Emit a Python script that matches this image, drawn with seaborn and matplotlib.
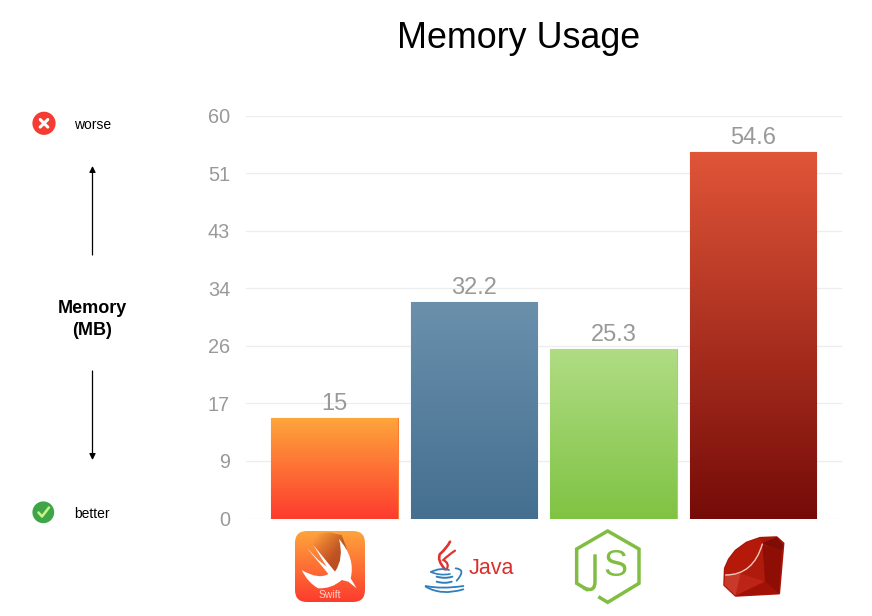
import numpy as np
import pandas as pd
import matplotlib
matplotlib.use("Agg")
import matplotlib.pyplot as plt
import seaborn as sns
from matplotlib.patches import Circle, FancyBboxPatch, PathPatch, Polygon
from matplotlib.path import Path
from matplotlib.colors import LinearSegmentedColormap

languages = ["Swift", "Java", "Node.js", "Ruby"]
memory_mb = [15, 32.2, 25.3, 54.6]
tick_values = [0, 60 / 7, 120 / 7, 180 / 7, 240 / 7, 300 / 7, 360 / 7, 60]
tick_labels = ["0", "9", "17", "26", "34", "43", "51", "60"]
gradient_top = ["#FDA53B", "#6A90AC", "#B0DC84", "#E05538"]
gradient_bottom = ["#FE3B2E", "#456F90", "#80C343", "#750B08"]
edge_colors = ["#FE7A35", "#5F86A3", "#A0D270", "#DC3A1C"]

sns.set_theme(style="white")
plt.rcParams["font.family"] = ["Liberation Sans", "DejaVu Sans"]

W, H = 872, 616
fig = plt.figure(figsize=(W / 100, H / 100), dpi=100, facecolor="white")
ax = fig.add_axes([246 / W, 1 - 518.5 / H, (842 - 246) / W, (518.5 - 115.5) / H])

df = pd.DataFrame({"language": languages, "memory": memory_mb})
sns.barplot(data=df, x="language", y="memory", hue="language",
            palette=gradient_top, legend=False, width=0.905, ax=ax, saturation=1)

xlim = (-0.634, 3.638)
ylim = (0, 60)
for i, patch in enumerate(ax.patches):
    x0, w = patch.get_x(), patch.get_width()
    h = patch.get_height()
    cmap = LinearSegmentedColormap.from_list("g", [gradient_top[i], gradient_bottom[i]])
    im = ax.imshow(np.linspace(0, 1, 256).reshape(-1, 1), cmap=cmap, aspect="auto",
                   extent=(x0, x0 + w, 0, h), zorder=2.5)
    im.set_clip_path(patch)
    patch.set_edgecolor(edge_colors[i])
    patch.set_linewidth(0.8)
    patch.set_zorder(2)

ax.set_xlim(*xlim)
ax.set_ylim(*ylim)
ax.set_yticks(tick_values)
ax.set_yticklabels(tick_labels, fontsize=14.3, color="#999999")
ax.set_xticks([])
ax.set_xlabel("")
ax.set_ylabel("")
ax.tick_params(axis="y", length=0, pad=11.5)
ax.grid(axis="y", color="#EDEDED", linewidth=0.9)
ax.set_axisbelow(True)
for s in ax.spines.values():
    s.set_visible(False)
ax.patch.set_alpha(0)

for i, v in enumerate(memory_mb):
    ax.annotate(f"{v:g}", (i, v), xytext=(0, 2.2), textcoords="offset points",
                ha="center", va="bottom", fontsize=17, color="#999999", zorder=4)

# Pixel-space overlay for annotations and logos
ov = fig.add_axes([0, 0, 1, 1], zorder=5)
ov.set_xlim(0, W)
ov.set_ylim(H, 0)
ov.axis("off")

ov.text(518.5, 38, "Memory Usage", fontsize=25.8, color="black", ha="center", va="center")
ov.text(92.5, 319.5, "Memory\n(MB)", fontsize=13, fontweight="bold", color="black",
        ha="center", va="center", linespacing=1.45)
ov.text(92.5, 125, "worse", fontsize=10, color="black", ha="center", va="center")
ov.text(92, 513.5, "better", fontsize=10, color="black", ha="center", va="center")

arrow = dict(arrowstyle="-|>", color="black", lw=0.9, mutation_scale=9, shrinkA=0, shrinkB=0)
ov.annotate("", xy=(92.5, 166), xytext=(92.5, 255), arrowprops=arrow)
ov.annotate("", xy=(92.5, 460), xytext=(92.5, 371), arrowprops=arrow)

# worse / better badges
ov.add_patch(Circle((44, 123.3), 11.6, fc="#F43C33", ec="none"))
ov.plot([40.2, 47.8], [119.5, 127.1], color="white", lw=2.2, solid_capstyle="round")
ov.plot([40.2, 47.8], [127.1, 119.5], color="white", lw=2.2, solid_capstyle="round")
ov.add_patch(Circle((43.3, 512.3), 10.9, fc="#3FA648", ec="none"))
ov.plot([38.5, 42, 49], [512.5, 516.5, 507.5], color="#C8F58A", lw=1.8,
        solid_capstyle="round", solid_joinstyle="round")


def crop(ox, oy, pts):
    return [(ox + x / 3, oy + y / 3) for x, y in pts]


# Swift logo
box = FancyBboxPatch((301, 537), 58, 59, boxstyle="round,pad=6,rounding_size=12",
                     fc="none", ec="none")
ov.add_patch(box)
sw = LinearSegmentedColormap.from_list("sw", ["#FDA53B", "#FE3B2E"])
im = ov.imshow(np.linspace(0, 1, 256).reshape(-1, 1), cmap=sw, aspect="auto",
               extent=(295, 365, 602, 531), zorder=1)
im.set_clip_path(box)
# soft darker shading behind the wing
ramp = np.zeros((64, 64, 4))
ramp[..., :3] = matplotlib.colors.to_rgb("#A8431B")
yy, xx = np.mgrid[0:1:64j, 0:1:64j]
ramp[..., 3] = np.clip(0.85 * (xx * 0.9 + yy * 0.7) - 0.1, 0, 0.75)
shade_clip = Polygon(crop(285, 525, [(85, 30), (130, 22), (170, 30), (185, 70), (178, 125), (145, 140), (85, 62)]),
                     fc="none", ec="none")
ov.add_patch(shade_clip)
im2 = ov.imshow(ramp, aspect="auto", extent=(313, 347, 572, 532), zorder=2)
im2.set_clip_path(shade_clip)
c = crop(285, 525, [(162, 42), (212, 100), (197, 160), (215, 190), (190, 170), (170, 165),
                    (140, 192), (100, 190), (70, 175), (50, 135), (100, 165), (130, 147), (118, 132),
                    (65, 68), (100, 105), (125, 125), (85, 60), (150, 140), (178, 100), (162, 42)])
codes = [Path.MOVETO, Path.CURVE3, Path.CURVE3, Path.LINETO, Path.LINETO, Path.LINETO,
         Path.CURVE3, Path.CURVE3, Path.CURVE3, Path.CURVE3, Path.CURVE3, Path.CURVE3, Path.LINETO,
         Path.LINETO, Path.LINETO, Path.LINETO, Path.LINETO, Path.LINETO, Path.CURVE3, Path.CURVE3]
ov.add_patch(PathPatch(Path(c, codes), fc="white", ec="none", zorder=3))
ov.text(330, 595, "Swift", fontsize=7.5, color="white", alpha=0.75, ha="center", va="center", zorder=3)
ov.set_xlim(0, W)
ov.set_ylim(H, 0)


# Java logo
def curve(ox, oy, pts, color, lw):
    p = crop(ox, oy, pts)
    cs = [Path.MOVETO] + [Path.CURVE3] * (len(p) - 1)
    if len(p) % 2 == 0:
        p = p + [p[-1]]
        cs = cs + [Path.CURVE3]
    ov.add_patch(PathPatch(Path(p, cs), fc="none", ec=color, lw=lw, capstyle="round"))


curve(415, 530, [(105, 35), (95, 55), (75, 72), (65, 90), (90, 118)], "#E1322F", 1.9)
curve(415, 530, [(120, 62), (100, 75), (85, 90), (105, 100), (95, 118)], "#E1322F", 1.6)
blue = "#2F7FBD"
curve(415, 530, [(48, 126), (75, 112), (102, 120)], blue, 1.3)
curve(415, 530, [(48, 126), (75, 138), (105, 132)], blue, 1.2)
curve(415, 530, [(65, 140), (90, 147), (112, 140)], blue, 1.4)
curve(415, 530, [(65, 155), (90, 162), (110, 155)], blue, 1.4)
curve(415, 530, [(122, 115), (155, 118), (125, 152)], blue, 1.3)
curve(415, 530, [(32, 168), (80, 178), (145, 168)], blue, 1.3)
curve(415, 530, [(32, 170), (80, 198), (145, 178)], blue, 1.3)
ov.text(491.5, 568.5, "Java", fontsize=15.5, color="#D8302D", ha="center", va="center")

# Node.js logo
green = "#80BD41"
hexa = crop(565, 525, [(100, 215), (128, 232), (222, 175), (222, 72), (128, 18), (35, 72), (35, 175), (70, 196)])
ov.plot(*zip(*hexa), color=green, lw=2.5, solid_joinstyle="miter", solid_capstyle="butt")
jc = crop(565, 525, [(90, 88), (90, 170), (90, 205), (55, 188)])
ov.add_patch(PathPatch(Path(jc, [Path.MOVETO, Path.LINETO, Path.CURVE3, Path.CURVE3]),
                       fc="none", ec=green, lw=2.5))
ov.text(615, 566.5, "S", fontsize=26, color=green, ha="center", va="center")

# Ruby logo
R = lambda pts: crop(715, 530, pts)
outer = [(135, 24), (185, 22), (205, 40), (192, 190), (62, 197), (28, 165), (30, 115), (42, 88), (62, 62), (95, 38)]
facets = [
    (outer, "#A81408"),
    ([(140, 40), (185, 22), (205, 45), (200, 62)], "#7D0D05"),
    ([(142, 45), (200, 60), (192, 190), (150, 155)], "#8E0E05"),
    ([(142, 45), (150, 155), (78, 130), (122, 95)], "#AE1A0C"),
    ([(135, 24), (95, 38), (62, 62), (42, 88), (30, 115), (30, 135), (78, 128), (122, 92), (142, 42)], "#B5190A"),
    ([(30, 135), (78, 130), (62, 197), (28, 165)], "#C9392A"),
    ([(78, 130), (150, 155), (62, 197)], "#BE2416"),
    ([(150, 155), (192, 190), (62, 197)], "#A01208"),
]
ov.add_patch(Polygon(R(outer), closed=True, fc="#A81408", ec="#A81408", lw=1.6, joinstyle="round"))
for pts, col in facets:
    ov.add_patch(Polygon(R(pts), closed=True, fc=col, ec="none"))
curve(715, 530, [(32, 135), (115, 135), (142, 42)], "#F3C9BC", 1.0)

ov.set_xlim(0, W)
ov.set_ylim(H, 0)
fig.savefig("out.png", dpi=100, facecolor="white")
